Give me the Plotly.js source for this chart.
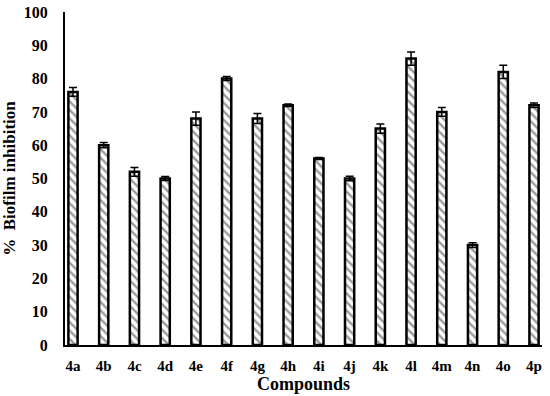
<!DOCTYPE html>
<html>
<head>
<meta charset="utf-8">
<script src="https://cdn.plot.ly/plotly-3.0.1.min.js"></script>
<style>
  html, body { margin: 0; padding: 0; background: #fff; }
  #chart { width: 550px; height: 396px; }
</style>
</head>
<body>
<div id="chart"></div>
<script>
// compounds and % biofilm inhibition
var compounds = ['4a','4b','4c','4d','4e','4f','4g','4h','4i','4j','4k','4l','4m','4n','4o','4p'];
var inhibition = [76, 60, 52, 50, 68, 80, 68, 72, 56, 50, 65, 86, 70, 30, 82, 72];
var errors = [1.3, 0.8, 1.3, 0.6, 2, 0.6, 1.5, 0.4, 0.3, 0.7, 1.4, 2, 1.3, 0.7, 2, 0.7];

var fam = 'Liberation Serif';

var trace = {
  type: 'bar',
  x: compounds,
  y: inhibition,
  width: 0.3,
  marker: {
    color: '#fff',
    line: { color: '#000', width: 2.5 },
    pattern: { shape: '\\', fgcolor: '#9a9a9a', bgcolor: '#fff', size: 6, solidity: 0.4 }
  },
  error_y: { type: 'data', array: errors, visible: true, color: '#000', thickness: 1.5, width: 4 },
  hoverinfo: 'x+y'
};

var layout = {
  width: 550,
  height: 396,
  margin: { l: 65, r: 8, t: 12, b: 51 },
  paper_bgcolor: '#fff',
  plot_bgcolor: '#fff',
  showlegend: false,
  font: { family: fam, size: 16, color: '#000', weight: 'bold' },
  xaxis: {
    type: 'category',
    range: [-0.26, 15.26],
    showgrid: false,
    zeroline: false,
    showline: true,
    linecolor: '#000',
    linewidth: 2,
    ticks: '',
    tickfont: { size: 15 },
    ticklabelstandoff: 6,
    title: { text: 'Compounds', font: { size: 18 }, standoff: 0 }
  },
  yaxis: {
    range: [0, 100],
    dtick: 10,
    showgrid: false,
    zeroline: false,
    showline: true,
    linecolor: '#000',
    linewidth: 2,
    ticks: '',
    automargin: false,
    tickfont: { size: 16 },
    ticklabelstandoff: 12,
    title: { text: '%  Biofilm inhibition', font: { size: 17 }, standoff: 4 }
  }
};

Plotly.newPlot('chart', [trace], layout, { displayModeBar: false, staticPlot: true });
</script>
</body>
</html>
